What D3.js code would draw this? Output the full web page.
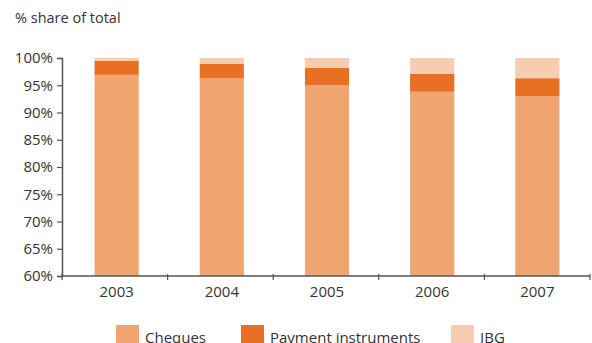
<!DOCTYPE html>
<html>
<head>
<meta charset="utf-8">
<script src="https://cdn.jsdelivr.net/npm/d3@7"></script>
<style>
  html, body { margin: 0; padding: 0; background: #fff; }
  svg { display: block; font-family: "Open Sans", "Noto Sans", sans-serif; }
</style>
</head>
<body>
<svg id="chart" width="592" height="343"></svg>
<script>
// Share of cheque-clearing volume by type, per year (%)
const years = ["2003", "2004", "2005", "2006", "2007"];
const cheques = [96.9, 96.3, 95.0, 93.8, 93.0];
const paymentInstruments = [2.6, 2.6, 3.2, 3.3, 3.3];
const ibg = [0.5, 1.1, 1.8, 2.9, 3.7];
const seriesNames = ["Cheques", "Payment instruments", "IBG"];
const seriesColors = ["#F0A470", "#E87025", "#F6CDAF"];
const yTicks = [60, 65, 70, 75, 80, 85, 90, 95, 100];

const svg = d3.select("#chart");
const margin = { left: 62, right: 2, top: 58, bottom: 67 };
const W = 592, H = 343;

const x = d3.scaleBand()
  .domain(years)
  .range([margin.left, W - margin.right])
  .paddingInner(0.58)
  .paddingOuter(0.3);

const y = d3.scaleLinear()
  .domain([60, 100])
  .range([H - margin.bottom, margin.top]);

const rows = years.map((yr, i) => ({
  year: yr,
  "Cheques": cheques[i],
  "Payment instruments": paymentInstruments[i],
  "IBG": ibg[i]
}));

const stacked = d3.stack().keys(seriesNames)(rows);

svg.append("text")
  .attr("x", 15).attr("y", 23)
  .attr("font-size", 14.5).attr("fill", "#333")
  .text("% share of total");

svg.append("g")
  .selectAll("g")
  .data(stacked)
  .join("g")
  .attr("fill", (d, i) => seriesColors[i])
  .selectAll("rect")
  .data(d => d)
  .join("rect")
  .attr("x", d => x(d.data.year) + 1)
  .attr("width", x.bandwidth())
  .attr("y", d => y(Math.min(d[1], 100)))
  .attr("height", d => y(Math.max(d[0], 60)) - y(Math.min(d[1], 100)));

// Y axis
const yAxis = svg.append("g")
  .attr("transform", `translate(${margin.left},0)`)
  .call(d3.axisLeft(y).tickValues(yTicks).tickFormat(d => d + "%").tickSize(5).tickPadding(4));
yAxis.select(".domain").attr("stroke", "#555").attr("stroke-width", 1.5);
yAxis.selectAll(".tick line").attr("stroke", "#555").attr("stroke-width", 1.2);
yAxis.selectAll("text").attr("font-size", 15).attr("fill", "#333")
  .attr("font-family", "'Open Sans', 'Noto Sans', sans-serif");

// X axis: ticks on category boundaries
const xAxisG = svg.append("g").attr("transform", `translate(0,${y(60)})`);
xAxisG.append("line")
  .attr("x1", margin.left).attr("x2", W - margin.right)
  .attr("stroke", "#555").attr("stroke-width", 1.5);
const boundaries = d3.range(years.length + 1).map(i => margin.left + i * (W - margin.right - margin.left) / years.length);
xAxisG.selectAll("line.tk")
  .data(boundaries)
  .join("line").attr("class", "tk")
  .attr("x1", d => d).attr("x2", d => d)
  .attr("y1", -2).attr("y2", 4)
  .attr("stroke", "#555").attr("stroke-width", 1.2);
xAxisG.selectAll("text")
  .data(years)
  .join("text")
  .attr("x", d => x(d) + 1 + x.bandwidth() / 2)
  .attr("y", 21)
  .attr("text-anchor", "middle")
  .attr("font-size", 15).attr("fill", "#333")
  .text(d => d);

// Legend
const legendX = [116, 241, 451];
const legend = svg.append("g");
seriesNames.forEach((name, i) => {
  legend.append("rect")
    .attr("x", legendX[i]).attr("y", 325)
    .attr("width", 23).attr("height", 23)
    .attr("fill", seriesColors[i]);
  legend.append("text")
    .attr("x", legendX[i] + 29).attr("y", 343)
    .attr("font-size", 15).attr("fill", "#333")
    .text(name);
});
</script>
</body>
</html>
